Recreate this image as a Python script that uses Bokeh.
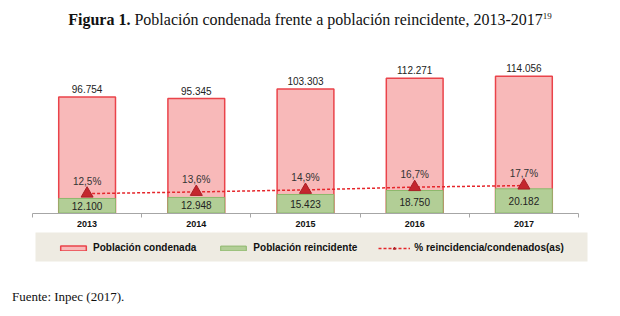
from bokeh.plotting import figure
from bokeh.models import (ColumnDataSource, Range1d, FixedTicker, Legend,
                          LegendItem, Div, BoxAnnotation)
from bokeh.layouts import column
from bokeh.embed import file_html
from bokeh.resources import INLINE
from bokeh.core.properties import value

# ---- data ----
years = ["2013", "2014", "2015", "2016", "2017"]
condenada = [96754, 95345, 103303, 112271, 114056]
reincidente = [12100, 12948, 15423, 18750, 20182]
pct_reincidencia = [12.5, 13.6, 14.9, 16.7, 17.7]


def fmt_int(v):
    return f"{v:,}".replace(",", ".")


def fmt_pct(v):
    return f"{v:.1f}%".replace(".", ",")


xs = [i + 0.5 for i in range(len(years))]
src = ColumnDataSource(dict(
    x=xs,
    cond=condenada,
    rein=reincidente,
    rein_mid=[v / 2 for v in reincidente],
    pct=pct_reincidencia,
    cond_lbl=[fmt_int(v) for v in condenada],
    rein_lbl=[fmt_int(v) for v in reincidente],
    pct_lbl=[fmt_pct(v) for v in pct_reincidencia],
))

SANS = "Liberation Sans"
SERIF = "Liberation Serif"

# ---- layout geometry (pixels) ----
W = 620
H_TITLE, H_FIG, H_FOOT = 36, 252, 28
FRAME_TOP = 22                 # frame top inside the figure
AX_LEFT, AX_RIGHT = 32, 578    # extent of the category axis
BASE = 212.5 - H_TITLE         # baseline inside the figure
PX_PER_UNIT_Y = 1.2 / 1000     # px per person
PX_PER_PCT = 1.55              # px per percentage point
ux = (AX_RIGHT - AX_LEFT) / len(years)
above = BASE - FRAME_TOP
below = H_FIG - BASE

p = figure(width=W, height=H_FIG,
           min_border_left=0, min_border_right=0,
           min_border_top=FRAME_TOP, min_border_bottom=0,
           x_range=Range1d(-AX_LEFT / ux, len(years) + (W - AX_RIGHT) / ux),
           y_range=Range1d(-below / PX_PER_UNIT_Y, above / PX_PER_UNIT_Y),
           y_axis_location=None,
           output_backend="svg", toolbar_location=None)
p.extra_y_ranges = {"pct": Range1d(-below / PX_PER_PCT, above / PX_PER_PCT)}
p.outline_line_color = None
p.xgrid.visible = False
p.ygrid.visible = False
p.background_fill_color = "white"
p.border_fill_color = "white"

# legend band
band = BoxAnnotation(left=(35 - AX_LEFT) / ux, right=(587 - AX_LEFT) / ux,
                     top=-(232 - 212.5) / PX_PER_UNIT_Y,
                     bottom=-(261 - 212.5) / PX_PER_UNIT_Y,
                     fill_color="#eeebe2", fill_alpha=1, line_color=None,
                     level="underlay")
p.add_layout(band)

r_cond = p.vbar(x="x", top="cond", width=0.52, source=src,
                fill_color="#f8b9b9", line_color="#ea434a", line_width=1.5)
r_rein = p.vbar(x="x", top="rein", width=0.52, source=src,
                fill_color="#b2ce96", line_color="#8db86c", line_width=1)
r_line = p.line(x="x", y="pct", source=src, y_range_name="pct",
                line_color="#e5262b", line_dash="3 2", line_width=1.5)
r_tri = p.scatter(x="x", y="pct", source=src, y_range_name="pct",
                  marker="triangle", size=12,
                  fill_color="#c4262e", line_color="#a81f25")

p.text(x="x", y="cond", text="cond_lbl", source=src, y_offset=-4,
       text_align="center", text_baseline="bottom",
       text_font=value(SANS), text_font_size="10px", text_color="#222222")
p.text(x="x", y="rein_mid", text="rein_lbl", source=src,
       text_align="center", text_baseline="middle",
       text_font=value(SANS), text_font_size="10px", text_color="#222222")
p.text(x="x", y="pct", text="pct_lbl", source=src, y_range_name="pct",
       y_offset=-7, text_align="center", text_baseline="bottom",
       text_font=value(SANS), text_font_size="10px", text_color="#333333")

ax = p.xaxis[0]
ax.fixed_location = 0
ax.bounds = (0, len(years))
ax.ticker = FixedTicker(ticks=xs, minor_ticks=list(range(len(years) + 1)))
ax.major_label_overrides = {x: y for x, y in zip(xs, years)}
ax.major_tick_in = 0
ax.major_tick_out = 0
ax.minor_tick_in = 0
ax.minor_tick_out = 4
ax.axis_line_color = "#a6a6a6"
ax.minor_tick_line_color = "#a6a6a6"
ax.major_label_text_font = SANS
ax.major_label_text_font_style = "bold"
ax.major_label_text_font_size = "9px"
ax.major_label_text_color = "#111111"
ax.major_label_standoff = 4

legend = Legend(items=[
    LegendItem(label="Población condenada", renderers=[r_cond]),
    LegendItem(label="Población reincidente", renderers=[r_rein]),
    LegendItem(label="% reincidencia/condenados(as)", renderers=[r_line, r_tri]),
], orientation="horizontal", location=(57, H_FIG - 247 + H_TITLE - 6),
    background_fill_alpha=0, border_line_color=None,
    label_text_font=SANS, label_text_font_style="bold",
    label_text_font_size="10px", label_text_color="#111111",
    glyph_width=32, glyph_height=6, label_standoff=4,
    padding=0, spacing=21, margin=0)
p.add_layout(legend)

title = Div(
    text='<div style="padding-top:9px"><b>Figura 1.</b> Población condenada '
         'frente a población reincidente, 2013-2017'
         '<sup style="font-size:9px">19</sup></div>',
    width=W, height=H_TITLE, margin=(0, 0, 0, 0),
    styles={"font-family": SERIF, "font-size": "16px",
            "text-align": "center", "color": "#111111"})

footer = Div(
    text='<div style="padding:0 0 0 12px">Fuente: Inpec (2017).</div>',
    width=W, height=H_FOOT, margin=(0, 0, 0, 0),
    styles={"font-family": SERIF, "font-size": "13px", "color": "#111111"})

layout = column(title, p, footer, spacing=0)

open("out.html", "w").write(file_html(layout, INLINE))
